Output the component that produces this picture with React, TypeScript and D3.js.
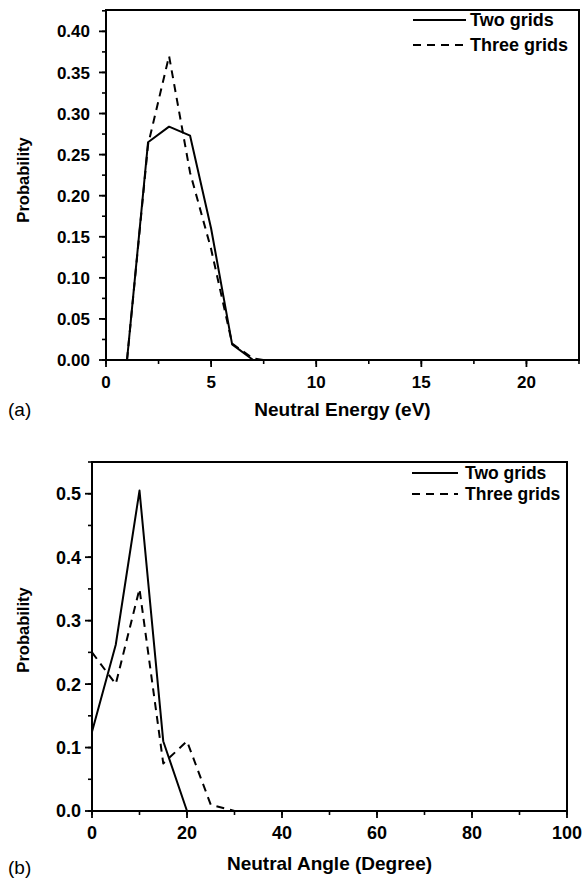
import React from "react";
import * as d3 from "d3";

// ---------- Data ----------
const energyTwoX = [1, 2, 3, 4, 5, 6, 7];
const energyTwoY = [0, 0.265, 0.284, 0.273, 0.16, 0.019, 0];
const energyThreeX = [1, 2, 3, 4, 5, 6, 6.6, 7, 7.5];
const energyThreeY = [0, 0.262, 0.37, 0.228, 0.135, 0.02, 0.009, 0.002, 0];

const angleTwoX = [0, 5, 10, 15, 20];
const angleTwoY = [0.125, 0.262, 0.505, 0.11, 0];
const angleThreeX = [0, 5, 10, 15, 20, 25, 30];
const angleThreeY = [0.25, 0.2, 0.35, 0.075, 0.11, 0.01, 0];

const energyXTicks = [0, 5, 10, 15, 20];
const energyYTicks = [0, 0.05, 0.1, 0.15, 0.2, 0.25, 0.3, 0.35, 0.4];
const angleXTicks = [0, 20, 40, 60, 80, 100];
const angleYTicks = [0, 0.1, 0.2, 0.3, 0.4, 0.5];

const seriesNames = ["Two grids", "Three grids"];

const FONT = "'Liberation Sans', Arial, Helvetica, sans-serif";

type PanelProps = {
  left: number;
  right: number;
  top: number;
  bottom: number;
  xDomain: [number, number];
  yDomain: [number, number];
  xTicks: number[];
  yTicks: number[];
  xMinorStep: number;
  yMinorStep: number;
  yFormat: string;
  series: { x: number[]; y: number[]; dash?: string }[];
  xTitle: string;
  xTitleY: number;
  yTitleX: number;
  yTitleY: number;
  tag: string;
  tagY: number;
  yLabelGap: number;
  legend: { lineX1: number; lineX2: number; textX: number; ys: number[]; font: number };
  tickFont: number;
};

function Panel(p: PanelProps) {
  const x = d3.scaleLinear().domain(p.xDomain).range([p.left, p.right]);
  const y = d3.scaleLinear().domain(p.yDomain).range([p.bottom, p.top]);
  const line = d3
    .line<[number, number]>()
    .x((d) => x(d[0]))
    .y((d) => y(d[1]));
  const fmt = d3.format(p.yFormat);
  const xMinor = d3.range(p.xDomain[0], p.xDomain[1] + 1e-9, p.xMinorStep);
  const yMinor = d3.range(p.yDomain[0], p.yDomain[1] + 1e-9, p.yMinorStep);
  const major = 7;
  const minor = 4;
  return (
    <g>
      {/* minor ticks */}
      {xMinor.map((v, i) => (
        <line key={"xm" + i} x1={x(v)} x2={x(v)} y1={p.bottom} y2={p.bottom + minor} stroke="#000" strokeWidth={1.6} />
      ))}
      {yMinor.map((v, i) => (
        <line key={"ym" + i} x1={p.left - minor} x2={p.left} y1={y(v)} y2={y(v)} stroke="#000" strokeWidth={1.6} />
      ))}
      {/* major ticks and labels */}
      {p.xTicks.map((v, i) => (
        <g key={"xt" + i}>
          <line x1={x(v)} x2={x(v)} y1={p.bottom} y2={p.bottom + major} stroke="#000" strokeWidth={1.8} />
          <text x={x(v)} y={p.bottom + 28} textAnchor="middle" fontFamily={FONT} fontWeight="bold" fontSize={p.tickFont}>
            {v}
          </text>
        </g>
      ))}
      {p.yTicks.map((v, i) => (
        <g key={"yt" + i}>
          <line x1={p.left - major} x2={p.left} y1={y(v)} y2={y(v)} stroke="#000" strokeWidth={1.8} />
          <text
            x={p.left - major - p.yLabelGap}
            y={y(v)}
            dy="0.36em"
            textAnchor="end"
            fontFamily={FONT}
            fontWeight="bold"
            fontSize={p.tickFont}
          >
            {fmt(v)}
          </text>
        </g>
      ))}
      {/* frame */}
      <rect x={p.left} y={p.top} width={p.right - p.left} height={p.bottom - p.top} fill="none" stroke="#000" strokeWidth={2} />
      {/* series */}
      {p.series.map((s, i) => (
        <path
          key={"s" + i}
          d={line(s.x.map((xv, j) => [xv, s.y[j]] as [number, number])) || ""}
          fill="none"
          stroke="#000"
          strokeWidth={2}
          strokeDasharray={s.dash}
          strokeLinejoin="round"
        />
      ))}
      {/* legend */}
      {seriesNames.map((name, i) => (
        <g key={"lg" + i}>
          <line
            x1={p.legend.lineX1}
            x2={p.legend.lineX2}
            y1={p.legend.ys[i]}
            y2={p.legend.ys[i]}
            stroke="#000"
            strokeWidth={2}
            strokeDasharray={p.series[i].dash}
          />
          <text x={p.legend.textX} y={p.legend.ys[i]} dy="0.36em" fontFamily={FONT} fontWeight="bold" fontSize={p.legend.font}>
            {name}
          </text>
        </g>
      ))}
      {/* axis titles */}
      <text
        x={(p.left + p.right) / 2}
        y={p.xTitleY}
        textAnchor="middle"
        fontFamily={FONT}
        fontWeight="bold"
        fontSize={19}
      >
        {p.xTitle}
      </text>
      <text
        transform={`translate(${p.yTitleX},${p.yTitleY}) rotate(-90)`}
        textAnchor="middle"
        fontFamily={FONT}
        fontWeight="bold"
        fontSize={16.5}
      >
        Probability
      </text>
      <text x={8} y={p.tagY} fontFamily={FONT} fontSize={19}>
        {p.tag}
      </text>
    </g>
  );
}

export default function App() {
  return (
    <svg width={584} height={882} style={{ position: "absolute", left: 0, top: 0, background: "#fff" }}>
      <Panel
        left={106}
        right={579}
        top={10}
        bottom={360}
        xDomain={[0, 22.5]}
        yDomain={[0, 0.426]}
        xTicks={energyXTicks}
        yTicks={energyYTicks}
        xMinorStep={2.5}
        yMinorStep={0.025}
        yFormat=".2f"
        series={[
          { x: energyTwoX, y: energyTwoY },
          { x: energyThreeX, y: energyThreeY, dash: "8,6" },
        ]}
        xTitle="Neutral Energy (eV)"
        xTitleY={416}
        yTitleX={29}
        yTitleY={180}
        tag="(a)"
        tagY={416}
        yLabelGap={9}
        legend={{ lineX1: 413, lineX2: 466, textX: 470, ys: [20, 45], font: 18 }}
        tickFont={17}
      />
      <Panel
        left={92}
        right={567}
        top={462}
        bottom={811}
        xDomain={[0, 100]}
        yDomain={[0, 0.55]}
        xTicks={angleXTicks}
        yTicks={angleYTicks}
        xMinorStep={10}
        yMinorStep={0.05}
        yFormat=".1f"
        series={[
          { x: angleTwoX, y: angleTwoY },
          { x: angleThreeX, y: angleThreeY, dash: "8,6" },
        ]}
        xTitle="Neutral Angle (Degree)"
        xTitleY={870}
        yTitleX={29}
        yTitleY={630}
        tag="(b)"
        tagY={874}
        yLabelGap={4}
        legend={{ lineX1: 412, lineX2: 458, textX: 465, ys: [473, 494], font: 17.5 }}
        tickFont={18}
      />
    </svg>
  );
}
